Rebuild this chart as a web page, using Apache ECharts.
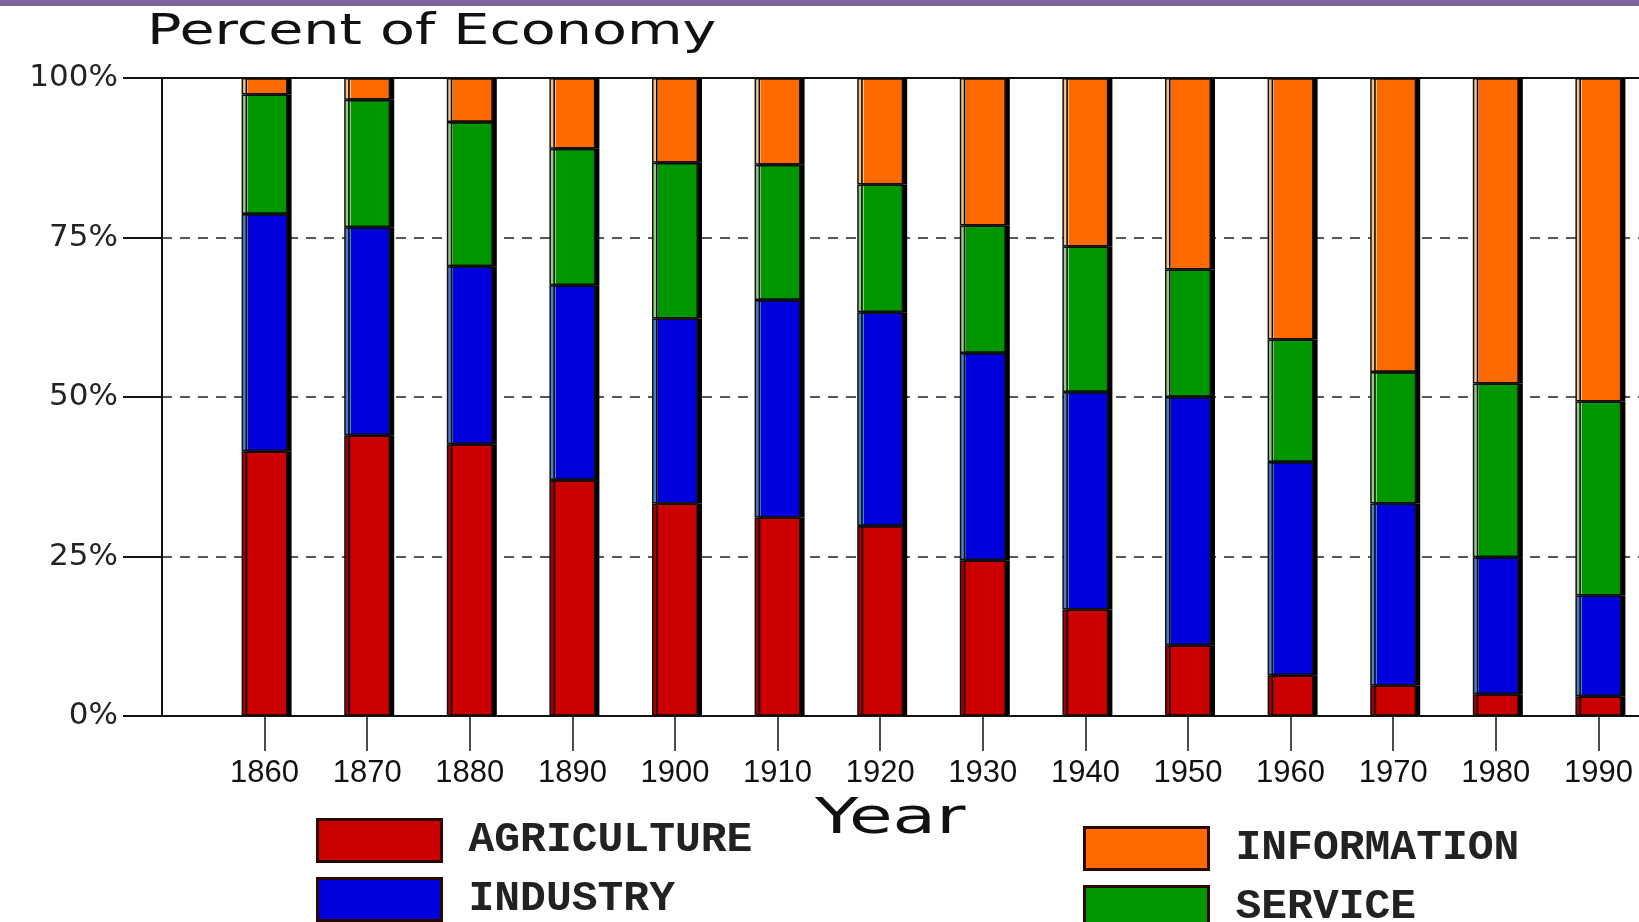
<!DOCTYPE html>
<html>
<head>
<meta charset="utf-8">
<script src="https://cdn.jsdelivr.net/npm/echarts@6/dist/echarts.min.js"></script>
<style>
html,body{margin:0;padding:0;background:#fff;overflow:hidden;}
#chart{width:1639px;height:922px;}
</style>
</head>
<body>
<div id="chart"></div>
<script>
const years = ['1860', '1870', '1880', '1890', '1900', '1910', '1920', '1930', '1940', '1950', '1960', '1970', '1980', '1990'];
const agriculture = [41.5, 44.0, 42.6, 37.0, 33.3, 31.1, 29.8, 24.4, 16.7, 11.1, 6.4, 4.8, 3.4, 3.1];
const industry    = [37.2, 32.6, 27.9, 30.5, 29.0, 34.1, 33.5, 32.5, 34.1, 38.9, 33.4, 28.5, 21.5, 15.8];
const service     = [18.7, 20.0, 22.6, 21.4, 24.4, 21.2, 20.0, 20.0, 22.8, 20.0, 19.2, 20.6, 27.2, 30.4];
const information = [2.6, 3.4, 6.9, 11.1, 13.3, 13.6, 16.7, 23.1, 26.4, 30.0, 41.0, 46.1, 47.9, 50.7];

// padded category list: an empty slot at each end so the axis frame starts at the y axis
const categories = [''].concat(years, ['']);
function padded(vals) { return [null].concat(vals, [null]); }

const chart = echarts.init(document.getElementById('chart'));

function fill(light, main) {
  return {
    type: 'linear', x: 0, y: 0, x2: 1, y2: 0,
    colorStops: [
      {offset: 0, color: light}, {offset: 0.14, color: light},
      {offset: 0.14, color: main}, {offset: 1, color: main}
    ]
  };
}

const seriesDefs = [
  {name: 'AGRICULTURE', data: agriculture, main: '#cc0000', light: '#a80000'},
  {name: 'INDUSTRY', data: industry, main: '#0000dd', light: '#4a7fc8'},
  {name: 'SERVICE', data: service, main: '#009600', light: '#8fd080'},
  {name: 'INFORMATION', data: information, main: '#ff6a00', light: '#f2c48a'}
];

const legendText = {
  fontFamily: 'Liberation Mono', fontWeight: 'bold', fontSize: 43, color: '#222',
  padding: [0, 0, 0, 22]
};
const legendItem = {borderColor: '#2a0800', borderWidth: 3};
const notPad = (idx, val) => val !== '';

chart.setOption({
  backgroundColor: '#ffffff',
  animation: false,
  grid: {left: 162, width: 1539, top: 78, bottom: 206, containLabel: false, outerBoundsMode: 'none'},
  xAxis: [{
    type: 'category', data: categories, boundaryGap: false,
    axisLine: {show: true, lineStyle: {color: '#111', width: 2}},
    axisTick: {show: true, interval: notPad, length: 35, lineStyle: {color: '#111', width: 1.5}},
    axisLabel: {show: true, interval: notPad, margin: 42,
      fontFamily: 'Liberation Sans', fontSize: 31, color: '#111'},
    splitLine: {show: false}
  }, {
    type: 'category', data: categories, boundaryGap: false, position: 'top',
    axisLine: {show: true, lineStyle: {color: '#111', width: 2}},
    axisTick: {show: false}, axisLabel: {show: false}, splitLine: {show: false}
  }],
  yAxis: {
    type: 'value', min: 0, max: 100, interval: 25,
    axisLine: {show: true, lineStyle: {color: '#111', width: 2}},
    axisTick: {show: true, length: 39, lineStyle: {color: '#111', width: 2}},
    axisLabel: {margin: 44, formatter: '{value}%', fontFamily: 'DejaVu Sans', fontSize: 31, color: '#222'},
    splitLine: {show: true, lineStyle: {type: [10, 8], color: '#222', width: 1.5}}
  },
  legend: [{
    data: [{name: 'AGRICULTURE', itemStyle: {color: '#cc0000'}}, {name: 'INDUSTRY', itemStyle: {color: '#0000dd'}}],
    orient: 'vertical', left: 316, top: 818, height: 200, padding: 0,
    itemWidth: 124, itemHeight: 42, itemGap: 14,
    icon: 'rect', selectedMode: false, textStyle: legendText, itemStyle: legendItem
  }, {
    data: [{name: 'INFORMATION', itemStyle: {color: '#ff6a00'}}, {name: 'SERVICE', itemStyle: {color: '#009600'}}],
    orient: 'vertical', left: 1083, top: 826, height: 200, padding: 0,
    itemWidth: 124, itemHeight: 42, itemGap: 14,
    icon: 'rect', selectedMode: false, textStyle: legendText, itemStyle: legendItem
  }],
  graphic: [
    {type: 'rect', shape: {x: 0, y: 0, width: 1639, height: 6}, style: {fill: '#8064a2'}, z: 100},
    {type: 'text', x: 147, y: 12, scaleX: 1.36, originX: 0, originY: 0,
      style: {text: 'Percent of Economy', font: '42px "DejaVu Sans"', fill: '#111', textVerticalAlign: 'top'}},
    {type: 'text', x: 815, y: 795, scaleX: 1.42, originX: 0, originY: 0,
      style: {text: 'Year', font: '50px "DejaVu Sans"', fill: '#111', textVerticalAlign: 'top'}}
  ],
  series: seriesDefs.map(s => ({
    name: s.name, type: 'bar', stack: 'total', barWidth: 46,
    data: padded(s.data),
    itemStyle: {color: fill(s.light, s.main), borderColor: '#111', borderWidth: 1.5,
      shadowColor: '#000', shadowOffsetX: 4, shadowOffsetY: 0, shadowBlur: 0},
    emphasis: {disabled: true}
  }))
});
</script>
</body>
</html>
